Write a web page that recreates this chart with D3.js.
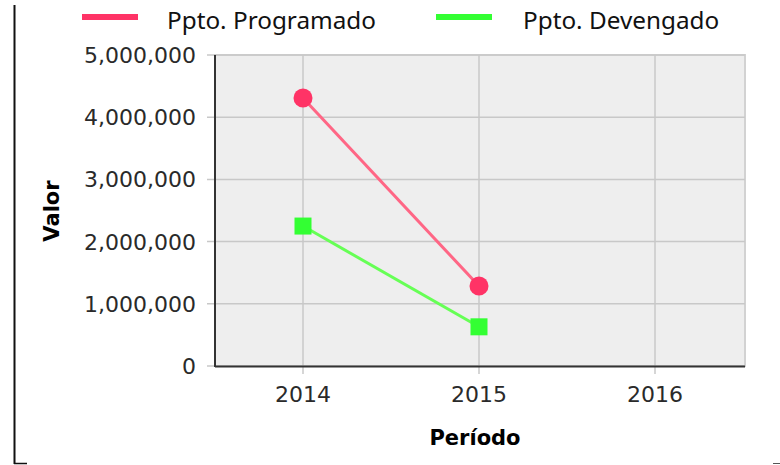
<!DOCTYPE html>
<html lang="es">

<head>
    <meta charset="UTF-8">
    <title>Presupuesto por período</title>
    <script src="https://d3js.org/d3.v7.min.js"></script>
</head>

<style>
    body { margin: 0; background: #fff; }
    .tick-label { font-family: "DejaVu Sans", sans-serif; font-size: 22px; fill: #2a2a2a; }
    .axis-title { font-family: "DejaVu Sans", sans-serif; font-size: 21px; font-weight: bold; fill: #000; }
    .legend-text { font-family: "Noto Sans", sans-serif; font-size: 24.3px; fill: #111; }
</style>

<body>
    <svg class="chart"></svg>

    <script>
        const svgW = 780;
        const svgH = 465;

        // datos
        const periodos = ["2014", "2015", "2016"];
        const seriesNames = ["Ppto. Programado", "Ppto. Devengado"];
        const programado = [4310000, 1285000];
        const devengado = [2250000, 630000];
        const yTicks = [0, 1000000, 2000000, 3000000, 4000000, 5000000];

        const colors = ["#ff3366", "#33ff33"];
        const lineColors = ["#ff6685", "#66ff55"];

        const svg = d3.select(".chart")
            .attr("width", svgW)
            .attr("height", svgH);

        const plot = { left: 215, right: 745, top: 55, bottom: 366 };

        const x = d3.scalePoint()
            .domain(periodos)
            .range([plot.left, plot.right - 2])
            .padding(0.5);

        const y = d3.scaleLinear()
            .domain([0, 5000000])
            .range([plot.bottom, plot.top]);

        // marco exterior (recortado)
        svg.append("line").attr("x1", 14.5).attr("x2", 14.5).attr("y1", 5).attr("y2", 464)
            .attr("stroke", "#111").attr("stroke-width", 2);
        svg.append("line").attr("x1", 14).attr("x2", 27).attr("y1", 463.5).attr("y2", 463.5)
            .attr("stroke", "#111").attr("stroke-width", 1.5);
        svg.append("line").attr("x1", 773).attr("x2", 780).attr("y1", 463.5).attr("y2", 463.5)
            .attr("stroke", "#555").attr("stroke-width", 1);

        // fondo del área de gráfico
        svg.append("rect")
            .attr("x", plot.left).attr("y", plot.top)
            .attr("width", plot.right - plot.left).attr("height", plot.bottom - plot.top)
            .attr("fill", "#eeeeee")
            .attr("stroke", "#d2d2d2").attr("stroke-width", 2);

        // rejilla
        const grid = svg.append("g");
        grid.selectAll(".hgrid")
            .data(yTicks.filter(d => d > 0))
            .join("line")
            .attr("x1", plot.left - 8).attr("x2", plot.right)
            .attr("y1", d => y(d)).attr("y2", d => y(d))
            .attr("stroke", "#c8c8c8").attr("stroke-width", 1.5);
        grid.selectAll(".vgrid")
            .data(periodos)
            .join("line")
            .attr("x1", d => x(d)).attr("x2", d => x(d))
            .attr("y1", plot.top).attr("y2", plot.bottom + 8)
            .attr("stroke", "#c8c8c8").attr("stroke-width", 1.5);
        // tick del 0
        grid.append("line")
            .attr("x1", plot.left - 8).attr("x2", plot.left)
            .attr("y1", y(0)).attr("y2", y(0))
            .attr("stroke", "#c8c8c8").attr("stroke-width", 1.5);

        // ejes
        svg.append("line").attr("x1", plot.left).attr("x2", plot.left)
            .attr("y1", plot.top).attr("y2", plot.bottom + 1)
            .attr("stroke", "#333").attr("stroke-width", 2);
        svg.append("line").attr("x1", plot.left).attr("x2", plot.right)
            .attr("y1", plot.bottom + 0.5).attr("y2", plot.bottom + 0.5)
            .attr("stroke", "#333").attr("stroke-width", 2);

        // etiquetas de ticks
        const fmt = d3.format(",");
        svg.selectAll(".ylab")
            .data(yTicks)
            .join("text")
            .attr("class", "tick-label")
            .attr("x", plot.left - 19)
            .attr("y", d => y(d))
            .attr("dy", "0.36em")
            .attr("text-anchor", "end")
            .text(d => fmt(d));

        svg.selectAll(".xlab")
            .data(periodos)
            .join("text")
            .attr("class", "tick-label")
            .attr("x", d => x(d))
            .attr("y", 402)
            .attr("text-anchor", "middle")
            .text(d => d);

        // títulos de ejes
        svg.append("text")
            .attr("class", "axis-title")
            .attr("transform", `translate(59, 211) rotate(-90)`)
            .attr("text-anchor", "middle")
            .text("Valor");
        svg.append("text")
            .attr("class", "axis-title")
            .attr("x", 475).attr("y", 445)
            .attr("text-anchor", "middle")
            .text("Período");

        // series
        const series = [programado, devengado];
        const line = d3.line()
            .x((d, i) => x(periodos[i]))
            .y(d => y(d));

        series.forEach((vals, s) => {
            svg.append("path")
                .attr("d", line(vals))
                .attr("fill", "none")
                .attr("stroke", lineColors[s])
                .attr("stroke-width", 3);
        });

        svg.selectAll(".pt-prog")
            .data(programado)
            .join("circle")
            .attr("cx", (d, i) => x(periodos[i]))
            .attr("cy", d => y(d))
            .attr("r", 9.5)
            .attr("fill", colors[0]);

        svg.selectAll(".pt-dev")
            .data(devengado)
            .join("rect")
            .attr("x", (d, i) => x(periodos[i]) - 8.5)
            .attr("y", d => y(d) - 8.5)
            .attr("width", 17).attr("height", 17)
            .attr("fill", colors[1]);

        // leyenda
        const legendX = [82, 436];
        const legend = svg.selectAll(".legend")
            .data(seriesNames)
            .join("g")
            .attr("transform", (d, i) => `translate(${legendX[i]}, 0)`);
        legend.append("rect")
            .attr("x", 0).attr("y", 14)
            .attr("width", 56).attr("height", 6)
            .attr("fill", (d, i) => colors[i]);
        legend.append("text")
            .attr("class", "legend-text")
            .attr("x", (d, i) => i === 0 ? 85 : 87)
            .attr("y", 29)
            .text(d => d);
    </script>
</body>

</html>
